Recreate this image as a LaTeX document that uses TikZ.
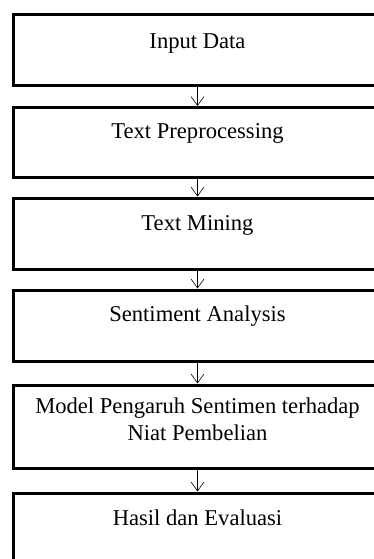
\documentclass[tikz,border=0pt]{standalone}
\usepackage{fontspec}
\setmainfont{Liberation Serif}
\usetikzlibrary{arrows.meta}

\begin{document}
\begin{tikzpicture}[x=1pt, y=1pt, ->, >={Straight Barb[length=9pt,width=13pt]}, semithick,
  box/.style={draw, rectangle, line width=3pt, minimum width=368pt, inner xsep=0pt, inner ysep=0pt,
    align=center, font=\fontsize{22.6}{27}\selectfont}]
      \clip (0,0) rectangle (374,-559);
      \node [box, text height=34pt, text depth=37.5pt] (inp) at (197.5,-50) {Input Data};
      \node [box, text height=31pt, text depth=39pt] (prep) at (197.5,-142.5) {Text Preprocessing};
      \node [box, text height=32.5pt, text depth=38.5pt] (mining) at (197.5,-233.5) {Text Mining};
      \node [box, text height=31.7pt, text depth=39.3pt] (senti) at (197.5,-325.5) {Sentiment Analysis};
      \node [box, text height=55pt, text depth=28pt] (model) at (197.5,-426.5) {Model Pengaruh Sentimen terhadap\\Niat Pembelian};
      \node [box, text height=32pt, text depth=55pt] (hasil) at (197.5,-536.5) {Hasil dan Evaluasi};
      \path
      (inp) edge (prep)
      (prep) edge (mining)
      (mining) edge (senti)
      (senti) edge (model)
      (model) edge (hasil)
      ;
\end{tikzpicture}
\end{document}
